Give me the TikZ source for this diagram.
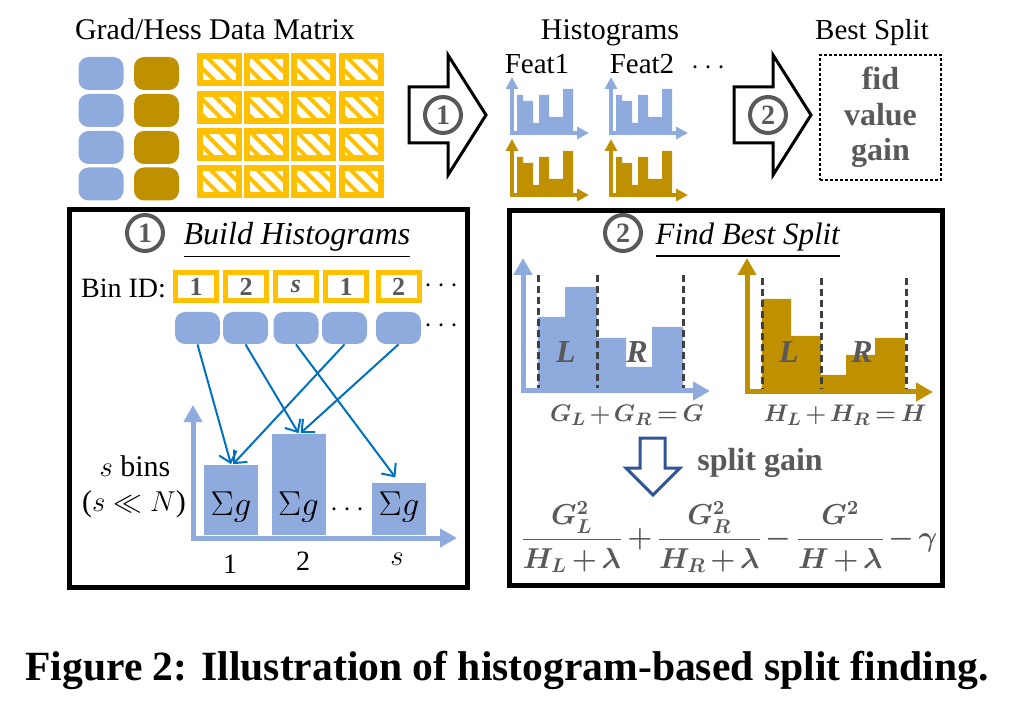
\documentclass[tikz,border=0pt]{standalone}
\usepackage{amsmath,amssymb,bm}
\usepackage{fontspec}
\setmainfont{Liberation Serif}
\usetikzlibrary{arrows.meta,patterns.meta,positioning}

\definecolor{lblue}{HTML}{8FAADC}
\definecolor{dgold}{HTML}{BF9000}
\definecolor{bgold}{HTML}{FFC000}
\definecolor{txtgray}{HTML}{595959}
\definecolor{dgray}{HTML}{404040}
\definecolor{arrblue}{HTML}{0070C0}
\definecolor{dblue}{HTML}{2F5597}

\newcommand{\tightmath}{\medmuskip=2.5mu \thickmuskip=3.5mu }

\tikzset{
    txt/.style={font=\fontsize{14}{16}\selectfont},
    head/.style={font=\fontsize{15}{17}\selectfont},
    gcell/.style={rounded corners=5pt, minimum width=22.5pt, minimum height=16.5pt, inner sep=0pt},
    datacell/.style={draw=bgold, line width=3pt, minimum width=19.5pt, minimum height=13.5pt, inner sep=0pt,
        pattern={Lines[angle=-45,distance=5.5pt,line width=2pt]}, pattern color=bgold},
    binbox/.style={draw=bgold, line width=2.5pt, minimum width=20.5pt, minimum height=14pt, inner sep=0pt,
        text=txtgray, font=\fontsize{13}{15}\selectfont\bfseries},
    blockarrow/.style={draw, line width=1.5pt, fill=white, line join=miter},
    circnum/.style={circle, draw=txtgray, line width=2pt, fill=white, minimum size=18pt, inner sep=0pt,
        text=txtgray, font=\fontsize{14}{16}\selectfont\bfseries},
    panel/.style={draw, line width=2.5pt},
    histbar/.style={fill=lblue, inner sep=0pt, minimum width=27pt, anchor=south},
    histaxis/.style={line width=2.5pt, {Triangle[length=8.5pt,width=9pt]}-{Triangle[length=8.5pt,width=9pt]}},
    miniaxis/.style={line width=2pt, {Triangle[length=6pt,width=6pt]}-{Triangle[length=6pt,width=6pt]}},
    binarrow/.style={arrblue, line width=1pt, -{Straight Barb[length=5pt,width=9pt]}},
    splitline/.style={dgray, line width=1.5pt, dash pattern=on 3.5pt off 2pt},
    gtxt/.style={text=txtgray, font=\fontsize{16}{18}\selectfont\bfseries},
    mathtxt/.style={text=txtgray, font=\fontsize{13}{15}\selectfont}
}

\begin{document}
\begin{tikzpicture}[x=0.5pt,y=-0.5pt]
    \useasboundingbox (0,0) rectangle (1030,706);

    % inputs
    \node[head, anchor=base] (input) at (215,40) {Grad/Hess Data Matrix};
    \foreach \y [count=\i] in {73.5,110.5,147.5,184} {
        \node[gcell, fill=lblue] (g\i) at (101,\y) {};
        \node[gcell, fill=dgold] (h\i) at (156.5,\y) {};
    }
    \foreach \y [count=\j] in {70,107.5,145,181.5}
        \foreach \x [count=\i] in {219.5,266.5,313.5,361}
            \node[datacell] (d\j\i) at (\x,\y) {};

    % step arrows
    \draw[blockarrow] (409,87) -- (448,87) -- (448,55) -- (486,115) -- (448,175) -- (448,143) -- (409,143) -- cycle;
    \node[circnum] (step1) at (443,115) {1};
    \draw[blockarrow] (734,87) -- (773,87) -- (773,55) -- (811,115) -- (773,175) -- (773,143) -- (734,143) -- cycle;
    \node[circnum] (step2) at (768,115) {2};

    % histograms
    \node[head, anchor=base] (hists) at (610,40) {Histograms};
    \node[head, font=\fontsize{14.5}{16}\selectfont, anchor=base] (feat1) at (537,74) {Feat1};
    \node[head, font=\fontsize{14.5}{16}\selectfont, anchor=base] (feat2) at (642,74) {Feat2};
    \node[txt] (featdots) at (711,68) {$\cdots$};
    \foreach \cx/\cy/\col in {512/133/lblue, 512/195/dgold, 611/133/lblue, 611/195/dgold} {
        \begin{scope}[shift={(\cx,\cy)}]
            \fill[\col] (5,0) |- (11,-38) |- (21,-32) |- (27,-10) |- (37,-38) |- (51,-16) |- (61,-44) -- (61,0) -- cycle;
            \draw[miniaxis, \col] (0,-56) -- (0,0) -- (77,0);
        \end{scope}
    }

    % best split
    \node[head, font=\fontsize{14.5}{16}\selectfont, anchor=base] (bestlbl) at (872,40) {Best Split};
    \node[draw, line width=0.8pt, dash pattern=on 1.5pt off 1pt, minimum width=60.5pt, minimum height=62.5pt,
        align=center, text=txtgray, font=\fontsize{16}{17.75}\selectfont\bfseries] (best) at (880.5,117.5) {fid\\value\\gain};

    % build histograms panel
    \draw[panel] (69.5,209.5) rectangle (467.5,587.5);
    \node[circnum] (c1) at (145,233) {1};
    \node[font=\fontsize{16}{18}\selectfont, anchor=base] (build) at (297,245) {\underline{\textit{Build Histograms}}};
    \node[txt] (binid) at (123.5,288) {Bin ID:};
    \foreach \x/\lab [count=\i] in {196/1, 246/2, 296/{\itshape s}, 346/1, 398.5/2}
        \node[binbox] (bin\i) at (\x,286.5) {\lab};
    \node[txt] (bindots) at (444,286) {$\cdots$};
    \foreach \x [count=\i] in {197.5,245.5,296,344.5,398.5}
        \node[gcell, fill=lblue, minimum height=16pt] (gb\i) at (\x,328) {};
    \node[txt] (gbdots) at (444,326) {$\cdots$};

    \node[histbar, minimum height=35pt] (bar1) at (231,535) {};
    \node[histbar, minimum height=50.5pt] (bar2) at (298.5,535) {};
    \node[histbar, minimum height=26pt] (bars) at (399,535) {};
    \draw[histaxis, lblue] (193,405) -- (193,538) -- (457,538);
    \node[font=\fontsize{16.5}{18}\selectfont] (sum1) at (231,507) {$\Sigma g$};
    \node[font=\fontsize{16.5}{18}\selectfont] (sum2) at (298.5,507) {$\Sigma g$};
    \node[font=\fontsize{16.5}{18}\selectfont] (sums) at (399,507) {$\Sigma g$};
    \node[txt] (bardots) at (350,510) {$\cdots$};
    \node[txt] (lab1) at (230,564) {1};
    \node[txt] (lab2) at (303,561) {2};
    \node[font=\fontsize{15}{17}\selectfont] (labs) at (397,559) {$s$};
    \node[font=\fontsize{15}{17}\selectfont] (nbins) at (135,466) {$s$ bins};
    \node[font=\fontsize{15}{17}\selectfont] (nbins2) at (134,504) {($s \ll N$)};

    \draw[binarrow] (gb1.south) -- (bar1.north);
    \draw[binarrow] (gb2.south) -- (bar2.north);
    \draw[binarrow, shorten >=3pt] (gb3.south) -- (bars.north);
    \draw[binarrow] (gb4.south) -- ([xshift=1pt]bar1.north);
    \draw[binarrow] (gb5.south) -- ([xshift=1pt]bar2.north);

    % find best split panel
    \draw[panel] (509.5,210.5) rectangle (942.5,585.5);
    \node[circnum] (c2) at (623,233) {2};
    \node[font=\fontsize{15.5}{17}\selectfont, anchor=base] (find) at (748,245) {\underline{\textit{Find Best Split}}};

    \fill[lblue] (538,391) |- (565,317) |- (597,287) |- (626,338) |- (652,367) |- (683,327) -- (683,391) -- cycle;
    \foreach \x in {538,597,683}
        \draw[splitline] (\x,275) -- (\x,391);
    \draw[histaxis, lblue] (523,258) -- (523,391) -- (710,391);
    \node[gtxt, font=\fontsize{16}{18}\selectfont\bfseries\itshape] (gl) at (566,352) {L};
    \node[gtxt, font=\fontsize{16}{18}\selectfont\bfseries\itshape] (gr) at (637,352) {R};

    \fill[dgold] (762,392) |- (791,299) |- (821,336) |- (846,375) |- (875,355) |- (905,338) -- (905,392) -- cycle;
    \foreach \x in {762,821,906}
        \draw[splitline] (\x,278) -- (\x,392);
    \draw[histaxis, dgold] (747,258) -- (747,392) -- (933,392);
    \node[gtxt, font=\fontsize{16}{18}\selectfont\bfseries\itshape] (hl) at (789,352) {L};
    \node[gtxt, font=\fontsize{16}{18}\selectfont\bfseries\itshape] (hr) at (862,352) {R};

    \node[mathtxt] (gsum) at (627,415) {$\tightmath\bm{G_L + G_R = G}$};
    \node[mathtxt] (hsum) at (845,415) {$\tightmath\bm{H_L + H_R = H}$};

    \draw[dblue, line width=1.5pt, line join=miter] (640,438) -- (665,438) -- (665,468) -- (680,468) -- (653,495) -- (626,468) -- (640,468) -- cycle;
    \node[gtxt] (gainlbl) at (760,463) {split gain};
    \node[mathtxt, font=\fontsize{14.5}{17}\selectfont] (gain) at (729,537)
        {$\displaystyle\tightmath\bm{\frac{G_L^2}{H_L+\lambda}+\frac{G_R^2}{H_R+\lambda}-\frac{G^2}{H+\lambda}-\gamma}$};

    % caption
    \node[font=\fontsize{20.8}{23}\selectfont\bfseries, anchor=base west, inner sep=0pt] (caption) at (25,680)
        {Figure 2: Illustration of histogram-based split finding.};
\end{tikzpicture}
\end{document}
